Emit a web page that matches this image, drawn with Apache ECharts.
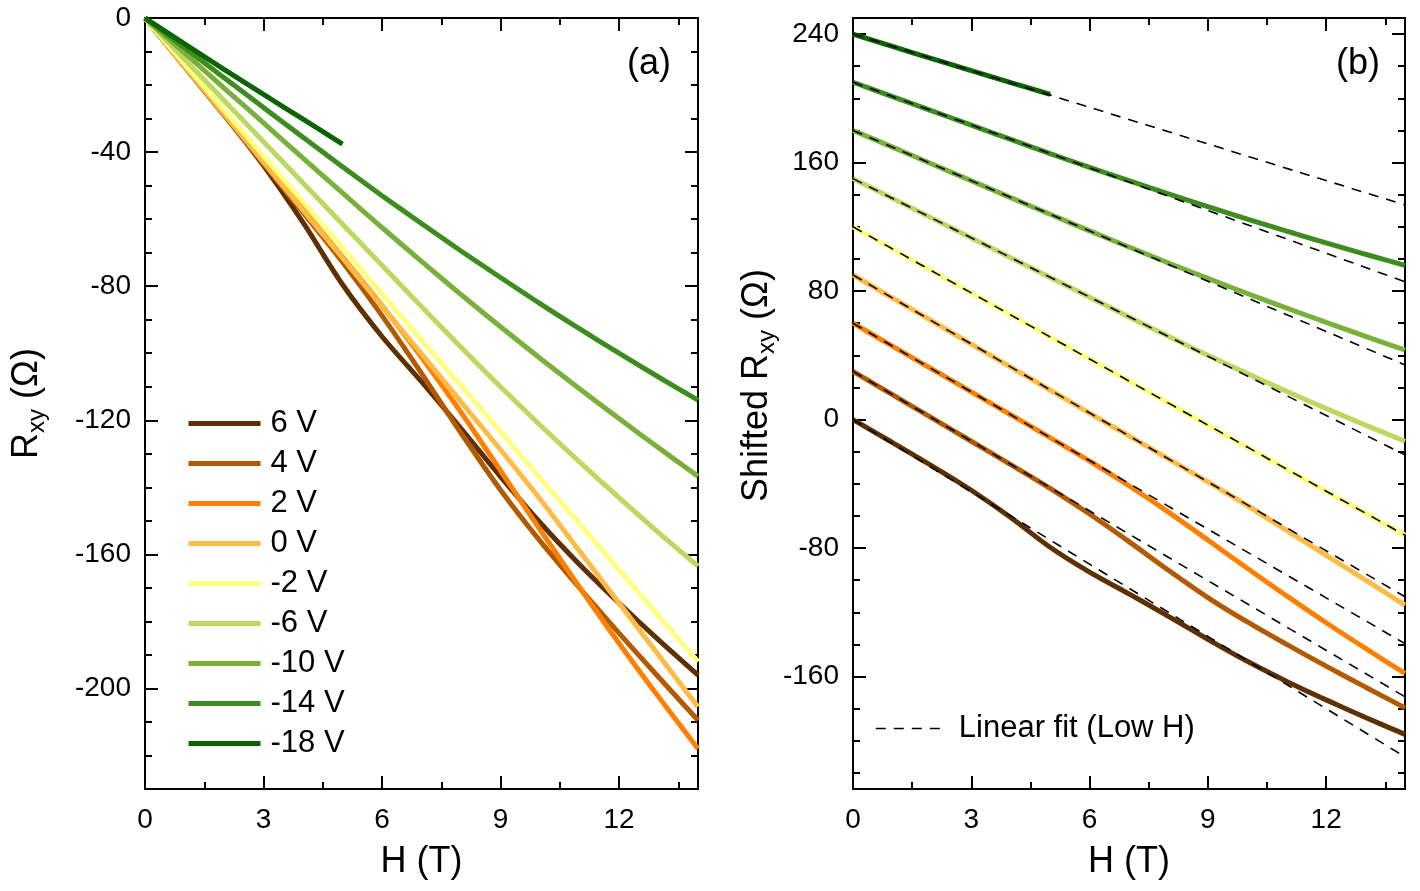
<!doctype html>
<html>
<head>
<meta charset="UTF-8">
<title>Rxy vs H</title>
<script src="https://cdn.jsdelivr.net/npm/echarts@6/dist/echarts.min.js"></script>
<style>
html, body { margin: 0; padding: 0; background: #fff; }
#main { width: 1420px; height: 891px; }
</style>
</head>
<body>
<div id="main"></div>
<script>
// field values (T)
var fieldH = [0, 1, 2, 3, 4, 5, 6, 7, 8, 9, 10, 11, 12, 13, 14];
var fieldH18 = [0, 1, 2, 3, 4, 5];

var gateNames = ['6 V', '4 V', '2 V', '0 V', '-2 V', '-6 V', '-10 V', '-14 V', '-18 V'];
var gateColors = ['#5e3000', '#b35900', '#ff8000', '#ffbb44', '#ffff80', '#bdd85e', '#78b03a', '#3c8c1e', '#0a6400'];

// Rxy (ohm)
var rxyP6 = [0, -14.3, -28.8, -44, -61, -79.5, -95, -108.5, -122.5, -136.8, -150.5, -163, -174.5, -185.5, -196];
var rxyP4 = [0, -14.5, -29, -43.5, -58, -72.8, -88.8, -106, -123.8, -140.8, -156, -170, -183.5, -196.6, -209.5];
var rxyP2 = [0, -14.3, -28.5, -42.8, -57, -71.3, -85.8, -101.2, -117.6, -135, -152.6, -169.8, -186.5, -202.5, -218];
var rxy0 = [0, -14.3, -28.6, -43, -57.3, -71.6, -86, -100.2, -114.5, -128.8, -143.5, -159, -174.5, -190, -205.5];
var rxyM2 = [0, -13.7, -27.4, -41.1, -54.8, -68.5, -82.3, -96, -109.7, -123.4, -137.2, -150.9, -164.6, -178.3, -192];
var rxyM6 = [0, -12.3, -24.6, -36.9, -49.2, -61.5, -73.8, -86.1, -98.2, -110, -121.4, -132.4, -143.1, -153.5, -163.5];
var rxyM10 = [0, -10.4, -20.9, -31.3, -41.8, -52.2, -62.5, -72.6, -82.5, -92.1, -101.5, -110.6, -119.5, -128.2, -136.7];
var rxyM14 = [0, -8.9, -17.8, -26.7, -35.6, -44.4, -53, -61.3, -69.5, -77.4, -85.2, -92.7, -100, -107.1, -114];
var rxyM18 = [0, -7.7, -15.3, -22.8, -30.2, -37.6];

// panel (b): offsets and low-field linear fit value at 14 T (shifted)
var shifts = [0, 30, 60, 90, 120, 150, 180, 210, 240];
var fitEnd = [-210, -172.6, -139.5, -110.3, -72, -22, 34, 85.8, 133.6];

// ticks
var xTicks = [0, 3, 6, 9, 12];
var xMinor = [1.5, 4.5, 7.5, 10.5, 13.5];
var yTicksA = [-200, -160, -120, -80, -40, 0];
var yMinorA = [-220, -210, -190, -180, -170, -150, -140, -130, -110, -100, -90, -70, -60, -50, -30, -20, -10];
var yTicksB = [-160, -80, 0, 80, 160, 240];
var yMinorB = [-220, -200, -180, -140, -120, -100, -60, -40, -20, 20, 40, 60, 100, 120, 140, 180, 200, 220];

var font = 'Liberation Sans';
var allRxy = [rxyP6, rxyP4, rxyP2, rxy0, rxyM2, rxyM6, rxyM10, rxyM14, rxyM18];

function axis(dim, grid, pos, min, max, ticks, len, label) {
	return {
		type: 'value', gridIndex: grid, position: pos, min: min, max: max,
		axisLine: { show: false, onZero: false },
		splitLine: { show: false },
		minorTick: { show: false },
		axisTick: { show: true, inside: true, length: len, customValues: ticks, lineStyle: { color: '#000', width: 2 } },
		axisLabel: { show: !!label, customValues: ticks, color: '#000', fontSize: 28, fontFamily: font, margin: dim == 'x' ? 17 : 14 }
	};
}

var subRich = {
	a: { fontSize: 36, fontFamily: font, color: '#000', lineHeight: 44 },
	s: { fontSize: 24, fontFamily: font, color: '#000', lineHeight: 24, verticalAlign: 'bottom' }
};

var xAxes = [], yAxes = [];
[0, 1].forEach(function (g) {
	var xa = axis('x', g, 'bottom', 0, 14, xTicks, 13, true);
	xa.name = 'H (T)';
	xa.nameLocation = 'middle';
	xa.nameGap = 55;
	xa.nameTextStyle = { fontSize: 36, fontFamily: font, color: '#000' };
	xAxes.push(xa);
	xAxes.push(axis('x', g, 'top', 0, 14, xTicks, 13, false));
	xAxes.push(axis('x', g, 'bottom', 0, 14, xMinor, 7, false));
	xAxes.push(axis('x', g, 'top', 0, 14, xMinor, 7, false));
});

var ya = axis('y', 0, 'left', -230, 0, yTicksA, 13, true);
ya.name = '{a|R}{s|xy}{a| (Ω)}';
ya.nameLocation = 'middle';
ya.nameGap = 96;
ya.nameTextStyle = { rich: subRich };
yAxes.push(ya);
yAxes.push(axis('y', 0, 'right', -230, 0, yTicksA, 13, false));
yAxes.push(axis('y', 0, 'left', -230, 0, yMinorA, 7, false));
yAxes.push(axis('y', 0, 'right', -230, 0, yMinorA, 7, false));

var yb = axis('y', 1, 'left', -230, 250, yTicksB, 13, true);
yb.name = '{a|Shifted R}{s|xy}{a| (Ω)}';
yb.nameLocation = 'middle';
yb.nameGap = 68;
yb.nameTextStyle = { rich: subRich, padding: [0, 0, 0, 36] };
yAxes.push(yb);
yAxes.push(axis('y', 1, 'right', -230, 250, yTicksB, 13, false));
yAxes.push(axis('y', 1, 'left', -230, 250, yMinorB, 7, false));
yAxes.push(axis('y', 1, 'right', -230, 250, yMinorB, 7, false));

var series = [];
// panel (a)
allRxy.forEach(function (vals, i) {
	var xs = vals.length == fieldH.length ? fieldH : fieldH18;
	series.push({
		name: gateNames[i], type: 'line', xAxisIndex: 0, yAxisIndex: 0,
		symbol: 'none', smooth: 0.3,
		lineStyle: { color: gateColors[i], width: 5 },
		itemStyle: { color: gateColors[i] },
		data: vals.map(function (v, k) { return [xs[k], v]; })
	});
});
// panel (b) shifted curves
allRxy.forEach(function (vals, i) {
	var xs = vals.length == fieldH.length ? fieldH : fieldH18;
	series.push({
		name: gateNames[i], type: 'line', xAxisIndex: 4, yAxisIndex: 4,
		symbol: 'none', smooth: 0.3,
		lineStyle: { color: gateColors[i], width: 5 },
		itemStyle: { color: gateColors[i] },
		data: vals.map(function (v, k) { return [xs[k], v + shifts[i]]; })
	});
});
// panel (b) linear fits
shifts.forEach(function (s, i) {
	series.push({
		name: 'Linear fit (Low H)', type: 'line', xAxisIndex: 4, yAxisIndex: 4,
		symbol: 'none', z: 5,
		lineStyle: { color: '#000', width: 1.6, type: [10, 8] },
		itemStyle: { color: '#000' },
		data: [[0, s], [14, fitEnd[i]]]
	});
});

var chart = echarts.init(document.getElementById('main'));
chart.setOption({
	animation: false,
	backgroundColor: '#fff',
	textStyle: { fontFamily: font },
	grid: [
		{ left: 145, top: 18, width: 553, height: 771, show: true, borderColor: '#000', borderWidth: 2, backgroundColor: 'transparent' },
		{ left: 853, top: 18, width: 552, height: 771, show: true, borderColor: '#000', borderWidth: 2, backgroundColor: 'transparent' }
	],
	xAxis: xAxes,
	yAxis: yAxes,
	legend: [
		{
			data: gateNames, orient: 'vertical', left: 181, top: 403,
			itemWidth: 72, itemHeight: 20, itemGap: 9, selectedMode: false,
			itemStyle: { opacity: 0, borderWidth: 0 },
			lineStyle: { width: 5 },
			textStyle: { fontSize: 31, lineHeight: 30, color: '#000', fontFamily: font, padding: [0, 0, 0, 5] }
		},
		{
			data: ['Linear fit (Low H)'], left: 870, top: 708,
			itemWidth: 70, itemHeight: 20, selectedMode: false,
			itemStyle: { opacity: 0, borderWidth: 0 },
			lineStyle: { width: 1.6, type: [10, 8] },
			textStyle: { fontSize: 31, lineHeight: 30, color: '#000', fontFamily: font, padding: [0, 0, 0, 8] }
		}
	],
	graphic: [
		{ type: 'text', left: 627, top: 46, style: { text: '(a)', fontSize: 36, fontFamily: font, fill: '#000' } },
		{ type: 'text', left: 1336, top: 46, style: { text: '(b)', fontSize: 36, fontFamily: font, fill: '#000' } }
	],
	series: series
});
</script>
</body>
</html>
